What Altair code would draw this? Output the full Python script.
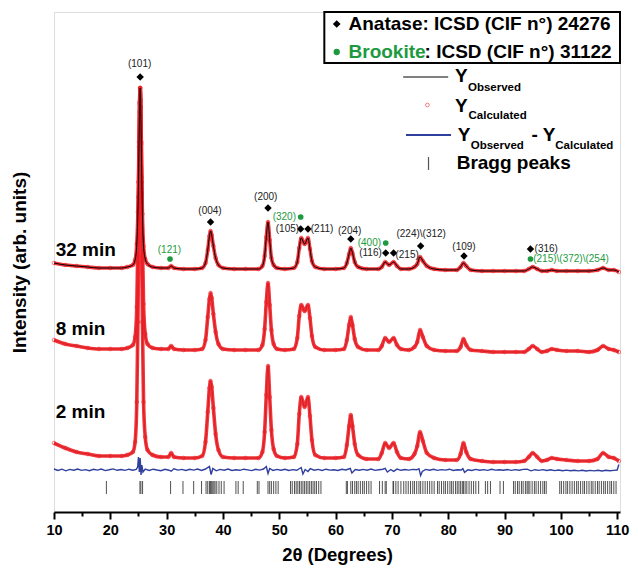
import altair as alt
import pandas as pd

FONT = "Liberation Sans"
RED = "#ee1f26"
BLUE = "#2f3f9e"
GREEN = "#1d9a40"

# ---------------- pattern data (2theta in degrees, intensity in arb. units) ----------------
x_deg = [10, 12, 14, 16, 18, 20, 22, 23, 24, 24.4, 24.7, 24.9, 25.0, 25.1, 25.2, 25.3, 25.4, 25.5, 25.6, 25.7,
         25.9, 26.2, 26.6, 27.5, 29, 30.3, 30.8, 31.3, 33, 35, 36.3, 36.9, 37.3, 37.6, 37.8, 38.0, 38.3, 38.7, 39.2, 40,
         42, 44, 46.3, 47.0, 47.4, 47.7, 48.0, 48.3, 48.6, 49.0, 49.6, 51, 52.6, 53.2, 53.55, 53.9, 54.5, 55.1, 55.45, 55.8,
         56.4, 58, 60, 61.5, 62.0, 62.4, 62.7, 63.0, 63.4, 64.0, 65.5, 67.6, 68.2, 68.8, 69.5, 70.3, 70.9, 71.6, 73.0, 74.0,
         74.5, 75.0, 75.5, 76.2, 77.5, 79.5, 81.5, 82.2, 82.7, 83.2, 84.0, 86, 88, 90, 92, 93.5, 94.3, 95.0, 95.8, 96.6,
         97.5, 98.4, 99.3, 101, 103, 105, 106.5, 107.5, 108.5, 109.4, 110.3]

y_32min = [249, 247, 246, 245, 244, 244, 244, 245, 247, 252, 268, 300, 330, 370, 408, 424, 405, 368, 330, 298,
           266, 253, 248, 245, 244, 244, 246, 244, 243, 243, 244, 249, 262, 276, 281, 277, 266, 254, 247, 244,
           243, 243, 243, 246, 256, 275, 290, 272, 254, 247, 244, 243, 244, 250, 264, 274, 268, 274, 263, 251,
           245, 243, 243, 244, 249, 258, 264, 259, 250, 245, 243, 243, 245, 250, 247, 250, 246, 243, 243, 245,
           248, 255, 251, 246, 243, 242, 242, 245, 249, 246, 242, 241, 241, 241, 241, 241, 243, 245, 243, 241,
           241, 242, 241, 241, 241, 241, 242, 244, 242, 242, 240]

y_8min = [172, 168, 166, 164, 163, 163, 163, 164, 167, 175, 205, 270, 315, 365, 410, 424, 412, 370, 318, 272,
          208, 178, 168, 164, 163, 163, 166, 163, 162, 162, 163, 172, 195, 213, 219, 214, 198, 180, 168, 163,
          162, 162, 162, 167, 183, 210, 229, 207, 182, 168, 163, 162, 163, 174, 196, 207, 201, 207, 194, 176,
          165, 162, 162, 163, 172, 187, 195, 187, 173, 165, 162, 162, 166, 174, 170, 174, 167, 163, 162, 165,
          170, 182, 175, 166, 162, 161, 161, 165, 173, 167, 162, 161, 160, 160, 160, 160, 163, 166, 163, 160,
          161, 163, 162, 161, 161, 160, 162, 166, 163, 162, 160]

y_2min = [69, 64, 60, 58, 56, 56, 56, 57, 60, 70, 110, 190, 250, 330, 400, 424, 405, 335, 255, 190,
          110, 75, 62, 57, 55, 55, 59, 55, 54, 54, 56, 70, 100, 124, 131, 125, 104, 78, 62, 55,
          54, 54, 54, 60, 80, 117, 146, 115, 82, 63, 56, 54, 55, 68, 98, 115, 105, 115, 96, 72,
          57, 54, 54, 55, 67, 86, 97, 86, 68, 57, 53, 53, 59, 69, 64, 69, 60, 54, 53, 58,
          66, 80, 71, 59, 54, 52, 52, 58, 69, 60, 53, 51, 50, 50, 50, 51, 55, 59, 55, 51,
          52, 54, 53, 52, 51, 51, 53, 59, 55, 54, 51]

# difference curve Y_obs - Y_calc
x_diff = [10, 10.7, 11.4, 12.1, 12.8, 13.5, 14.2, 14.9, 15.6, 16.3,
          17.0, 17.7, 18.4, 19.1, 19.8, 20.5, 21.2, 21.9, 22.6, 23.3,
          24.0, 24.6, 24.85, 25.0, 25.15, 25.3, 25.45, 25.6, 25.8, 26.2,
          26.9, 27.6, 28.3, 29.0, 29.7, 30.4, 30.8, 31.3, 32.0, 32.7,
          33.4, 34.1, 34.8, 35.5, 36.2, 36.9, 37.6, 37.9, 38.2, 38.8,
          39.5, 40.2, 40.9, 41.6, 42.3, 43.0, 43.7, 44.4, 45.1, 45.8,
          46.5, 47.2, 47.7, 48.0, 48.3, 48.9, 49.6, 50.3, 51.0, 51.7,
          52.4, 53.1, 53.9, 54.2, 54.6, 55.1, 55.5, 56.2, 56.9, 57.6,
          58.3, 59.0, 59.7, 60.4, 61.1, 61.8, 62.6, 62.9, 63.5, 64.2,
          64.9, 65.6, 66.3, 67.0, 67.7, 68.4, 68.8, 69.2, 69.8, 70.3,
          70.9, 71.6, 72.3, 73.0, 73.7, 74.4, 74.8, 75.1, 75.4, 76.0,
          76.7, 77.4, 78.1, 78.8, 79.5, 80.2, 80.9, 81.6, 82.3, 82.6,
          82.9, 83.5, 84.2, 84.9, 85.6, 86.3, 87.0, 87.7, 88.4, 89.1,
          89.8, 90.5, 91.2, 91.9, 92.6, 93.3, 94.0, 94.7, 95.4, 96.1,
          96.8, 97.5, 98.2, 98.9, 99.6, 100.3, 101.0, 101.7, 102.4, 103.1,
          103.8, 104.5, 105.2, 105.9, 106.6, 107.3, 108.0, 108.7, 109.4, 110.0, 110.3]
y_diff = [43, 41.5, 42.8, 41.2, 42.6, 41.8, 43.0, 41.6, 42.4, 41.3,
          42.7, 41.9, 42.9, 41.4, 42.2, 43.1, 41.7, 42.5, 41.6, 42.8,
          41.8, 42.6, 45, 55, 40, 54, 37, 47, 40, 43,
          41.6, 42.8, 42.0, 41.3, 42.7, 41.8, 40.8, 43.2, 41.9, 42.6,
          41.5, 42.7, 41.9, 42.9, 41.6, 43.0, 45.5, 37.5, 43.5, 41.2,
          42.6, 41.8, 42.9, 41.5, 42.3, 41.7, 42.8, 42.1, 41.4, 42.7,
          41.9, 43.0, 45.5, 38.5, 43.5, 41.6, 42.6, 41.8, 42.7, 41.5,
          42.4, 41.7, 44.5, 38.0, 42.5, 40.5, 43.3, 41.8, 42.6, 41.6,
          42.8, 41.9, 42.3, 41.5, 42.7, 42.0, 43.5, 39.0, 42.4, 41.7,
          42.6, 41.8, 42.9, 41.6, 42.3, 42.8, 43.6, 40.0, 42.5, 40.6,
          42.9, 41.7, 42.5, 41.9, 42.6, 42.2, 43.3, 36.5, 40.5, 42.6,
          41.8, 42.7, 41.6, 42.4, 41.9, 42.8, 41.5, 42.3, 42.0, 43.4,
          39.6, 42.2, 41.5, 42.6, 41.8, 42.4, 41.6, 42.7, 41.9, 42.3,
          41.7, 42.5, 41.6, 42.4, 41.8, 42.6, 42.9, 41.2, 42.3, 41.6,
          42.4, 41.5, 42.2, 41.4, 42.0, 41.3, 41.9, 41.2, 41.8, 41.1,
          41.7, 41.0, 41.6, 41.1, 41.8, 41.0, 41.7, 41.2, 41.6, 42.0, 47.5]

bragg_pos = [19.3, 25.26, 25.43, 25.73, 30.7, 32.9, 34.8, 36.2, 37.0, 37.3, 37.6, 37.8, 38.0, 38.2, 38.4,
             38.6, 38.9, 39.3, 39.7, 40.2, 42.3, 42.7, 43.6, 46.1, 46.4, 48.0, 48.3, 48.6, 49.0, 49.4, 49.8,
             52.0, 52.3, 52.7, 53.0, 53.3, 53.6, 53.9, 54.2, 54.5, 54.8, 55.1, 55.4, 55.7, 56.0, 56.3, 56.6,
             57.0, 57.4, 61.9, 62.1, 62.7, 63.0, 63.4, 63.7, 64.0, 64.4, 64.8, 65.1, 65.5, 65.9, 66.3, 67.8,
             68.3, 68.8, 69.0, 70.2, 70.3, 70.7, 71.1, 71.6, 72.1, 72.5, 72.9, 73.3, 73.7, 74.0, 74.4, 74.8,
             75.1, 75.5, 75.9, 76.3, 76.7, 77.1, 77.5, 78.1, 78.4, 78.8, 79.2, 79.5, 79.9, 80.3, 80.6, 80.9,
             81.3, 81.6, 81.9, 82.2, 82.5, 82.7, 83.0, 83.3, 83.7, 84.1, 84.5, 84.9, 85.4, 86.6, 87.0, 87.5,
             89.2, 89.8, 91.6, 91.9, 92.3, 92.6, 93.0, 93.3, 93.7, 94.0, 94.2, 94.5, 94.9, 95.3, 95.6, 96.0,
             96.4, 96.8, 97.1, 97.4, 99.8, 100.1, 100.5, 100.9, 101.2, 101.6, 102.0, 102.4, 102.8, 103.1,
             103.5, 103.9, 104.2, 104.6, 105.0, 105.4, 105.7, 106.1, 106.5, 106.8, 107.2, 107.6, 107.9,
             108.3, 108.7, 109.0, 109.4, 109.8]

# ---------------- peak annotations ----------------
anatase_x = [25.3, 37.8, 48.0, 53.8, 55.1, 62.7, 68.9, 70.3, 75.1, 82.8, 94.6]
anatase_y = [435, 290, 304, 283, 283, 273, 259, 259, 266, 256, 263]
brookite_x = [30.6, 53.8, 68.9, 94.6]
brookite_y = [253, 295, 269, 253]

anatase_labels = ["(101)", "(004)", "(200)", "(105)", "(211)", "(204)", "(116)", "(215)",
                  "(224)\\(312)", "(109)", "(316)"]
anatase_label_x = [25.2, 37.7, 47.6, 51.45, 57.6, 62.5, 66.2, 72.7, 75.2, 82.8, 97.4]
anatase_label_y = [448, 301, 315, 283, 283, 281, 259, 257, 278, 265, 263]

brookite_labels = ["(121)", "(320)", "(400)", "(215)\\(372)\\(254)"]
brookite_label_x = [30.5, 50.9, 66.0, 101.8]
brookite_label_y = [262, 295, 269, 253]

series_names = ["32 min", "8 min", "2 min"]
series_label_x = [10.3, 10.3, 10.3]
series_label_y = [262, 183, 100]

# legend content
legend_big_text = ["Anatase: ICSD (CIF n\u00b0) 24276", ": ICSD (CIF n\u00b0) 31122", "Y", "Y", "Y", "- Y",
                   "Bragg peaks"]
legend_big_x = [62.3, 75.8, 81.2, 81.2, 81.7, 94.8, 81.5]
legend_big_y = [488, 460, 436, 406, 377, 377, 349]
legend_sub_text = ["Observed", "Calculated", "Observed", "Calculated"]
legend_sub_x = [83.5, 83.6, 84.0, 99.0]
legend_sub_y = [424, 396, 366, 366]

assert len(x_deg) == len(y_32min) == len(y_8min) == len(y_2min)
assert len(x_diff) == len(y_diff)

# ---------------- tables ----------------
rows = []
for name, ys_ in zip(series_names, [y_32min, y_8min, y_2min]):
    for xv, yv in zip(x_deg, ys_):
        rows.append({"x": xv, "y": yv, "pattern": name})
pat = pd.DataFrame(rows)
diff = pd.DataFrame({"x": x_diff, "y": y_diff})
bragg = pd.DataFrame({"x": bragg_pos})
ana = pd.DataFrame({"x": anatase_x, "y": anatase_y})
bro = pd.DataFrame({"x": brookite_x, "y": brookite_y})
ana_lab = pd.DataFrame({"x": anatase_label_x, "y": anatase_label_y, "t": anatase_labels})
bro_lab = pd.DataFrame({"x": brookite_label_x, "y": brookite_label_y, "t": brookite_labels})
ser_lab = pd.DataFrame({"x": series_label_x, "y": series_label_y, "t": series_names})
leg_big = pd.DataFrame({"x": legend_big_x, "y": legend_big_y, "t": legend_big_text})
leg_sub = pd.DataFrame({"x": legend_sub_x, "y": legend_sub_y, "t": legend_sub_text})
leg_green = pd.DataFrame({"x": [62.3], "y": [460], "t": ["Brookite"]})
leg_box = pd.DataFrame({"x": [58.0], "x2": [110.5], "y": [449], "y2": [500]})
leg_sym_ana = pd.DataFrame({"x": [60.2], "y": [488]})
leg_sym_bro = pd.DataFrame({"x": [60.2], "y": [460]})
leg_obs = pd.DataFrame({"x": [72.0, 80.0], "y": [435, 435]})
leg_dif = pd.DataFrame({"x": [72.5, 80.5], "y": [377, 377]})
leg_calc = pd.DataFrame({"x": [76.3], "y": [407]})
leg_bragg = pd.DataFrame({"x": [76.5], "y": [342], "y2": [355]})

# ---------------- scales / axes ----------------
xs = alt.Scale(domain=[10, 110.5], nice=False, zero=False)
ys = alt.Scale(domain=[0, 500], nice=False, zero=False)
xaxis = alt.Axis(
    values=list(range(10, 111, 5)),
    labelExpr="datum.value % 10 === 0 ? datum.label : ''",
    tickSize={"condition": {"test": "datum.value % 10 === 0", "value": 7}, "value": 4},
    tickWidth=2, tickColor="black", domainWidth=2, domainColor="black",
    labelFont=FONT, labelFontSize=14.5, labelFontWeight="bold", labelColor="black",
    labelPadding=4, labelFlush=False,
    title="2\u03b8 (Degrees)", titleFont=FONT, titleFontSize=18.5, titleFontWeight="bold",
    titleColor="black", titlePadding=9, grid=False,
)
yaxis = alt.Axis(
    title="Intensity (arb. units)", ticks=False, labels=False, domain=False, grid=False,
    titleFont=FONT, titleFontSize=19, titleFontWeight="bold", titleColor="black", titlePadding=25,
)


def X(f="x"):
    return alt.X(f, type="quantitative", scale=xs, axis=xaxis)


def Y(f="y"):
    return alt.Y(f, type="quantitative", scale=ys, axis=yaxis)


def text_layer(df, size, color="black", weight="bold", align="left"):
    return alt.Chart(df).mark_text(
        font=FONT, fontSize=size, fontWeight=weight, color=color, align=align, baseline="middle"
    ).encode(x=X(), y=Y(), text="t:N")


layers = []
# legend box
layers.append(alt.Chart(leg_box).mark_rect(fill="white", stroke="black", strokeWidth=2).encode(
    x=X(), x2="x2:Q", y=Y(), y2="y2:Q"))
# bragg ticks
layers.append(alt.Chart(bragg).mark_rule(color="#333333", strokeWidth=1, opacity=0.85).encode(
    x=X(), y=alt.YDatum(18, scale=ys, axis=yaxis), y2=alt.Y2Datum(31)))
# difference curve
layers.append(alt.Chart(diff).mark_line(color=BLUE, strokeWidth=1.4).encode(x=X(), y=Y()))
# observed lines below (8 and 2 min)
layers.append(alt.Chart(pat).transform_filter("datum.pattern !== '32 min'").mark_line(
    color="black", strokeWidth=1, interpolate="monotone").encode(x=X(), y=Y(), detail="pattern:N"))
# calculated (red thick band + open circles)
layers.append(alt.Chart(pat).mark_line(color=RED, strokeWidth=3.6, interpolate="monotone", opacity=0.9).encode(
    x=X(), y=Y(), detail="pattern:N"))
layers.append(alt.Chart(pat).mark_point(shape="circle", filled=False, color=RED, size=14, strokeWidth=0.8).encode(
    x=X(), y=Y()))
# observed line on top for 32 min
layers.append(alt.Chart(pat).transform_filter("datum.pattern === '32 min'").mark_line(
    color="black", strokeWidth=1, interpolate="monotone").encode(x=X(), y=Y()))
# peak markers
layers.append(alt.Chart(ana).mark_point(shape="diamond", filled=True, color="black", size=55, opacity=1).encode(
    x=X(), y=Y()))
layers.append(alt.Chart(bro).mark_point(shape="circle", filled=True, color=GREEN, size=32, opacity=1).encode(
    x=X(), y=Y()))
layers.append(text_layer(ana_lab, 10, color="#222222", weight="normal", align="center"))
layers.append(text_layer(bro_lab, 10, color=GREEN, weight="normal", align="center"))
# series labels
layers.append(text_layer(ser_lab, 19))
# legend
layers.append(alt.Chart(leg_sym_ana).mark_point(shape="diamond", filled=True, color="black", size=60, opacity=1).encode(
    x=X(), y=Y()))
layers.append(alt.Chart(leg_sym_bro).mark_point(shape="circle", filled=True, color=GREEN, size=40, opacity=1).encode(
    x=X(), y=Y()))
layers.append(text_layer(leg_big, 19))
layers.append(text_layer(leg_green, 19, color=GREEN))
layers.append(text_layer(leg_sub, 11.5))
layers.append(alt.Chart(leg_obs).mark_line(color="black", strokeWidth=1).encode(x=X(), y=Y()))
layers.append(alt.Chart(leg_dif).mark_line(color=BLUE, strokeWidth=2).encode(x=X(), y=Y()))
layers.append(alt.Chart(leg_calc).mark_point(shape="circle", filled=False, color=RED, size=14, strokeWidth=0.8).encode(
    x=X(), y=Y()))
layers.append(alt.Chart(leg_bragg).mark_rule(color="#555555", strokeWidth=1.2).encode(x=X(), y=Y(), y2="y2:Q"))

chart = alt.layer(*layers).properties(
    width=566, height=500,
    autosize=alt.AutoSizeParams(type="none"),
    padding={"left": 46, "top": 4, "right": 10, "bottom": 57},
).configure_view(stroke="black", strokeWidth=2).configure(background="white")

chart.save("out.html", embed_options={"renderer": "svg", "actions": False})
